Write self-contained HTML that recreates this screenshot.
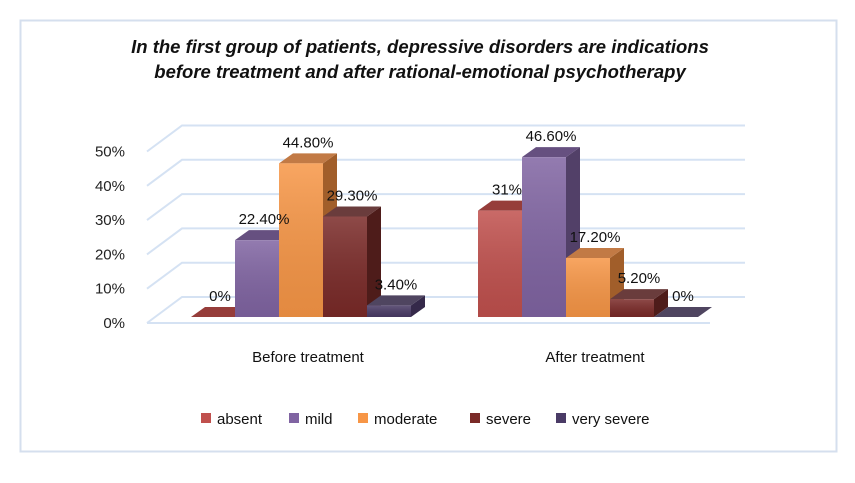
<!DOCTYPE html>
<html><head><meta charset="utf-8"><style>
body{margin:0;background:#fff;}
svg text{font-family:"Liberation Sans",sans-serif;}
</style></head><body>
<svg id="chart" width="855" height="478" xmlns="http://www.w3.org/2000/svg">
<defs>
<linearGradient id="gv" x1="0" y1="0" x2="0" y2="1"><stop offset="0" stop-color="#fff" stop-opacity="0.15"/><stop offset="1" stop-color="#000" stop-opacity="0.08"/></linearGradient>
</defs>
<rect x="20.5" y="20.5" width="816" height="431" fill="#fff" stroke="#d5dfee" stroke-width="2"/>
<text x="420" y="53" text-anchor="middle" font-size="18.5" font-weight="bold" font-style="italic" fill="#111">In the first group of patients, depressive disorders are indications</text>
<text x="420" y="78" text-anchor="middle" font-size="18.5" font-weight="bold" font-style="italic" fill="#111">before treatment and after rational-emotional psychotherapy</text>
<g id="grid"></g><g id="bars"></g><g id="labels"></g><g id="legend"></g>
</svg>
<script>
const categories=["Before treatment","After treatment"];
const seriesNames=["absent","mild","moderate","severe","very severe"];
const before=[0,22.4,44.8,29.3,3.4];
const after=[31,46.6,17.2,5.2,0];
const beforeLabels=["0%","22.40%","44.80%","29.30%","3.40%"];
const afterLabels=["31%","46.60%","17.20%","5.20%","0%"];
const yTicks=[0,10,20,30,40,50];
const colors=[["#c0504d","#963d3a","#8a3532"],["#8064a2","#665080","#524068"],["#f79646","#c27a45","#a15e2a"],["#7a2a28","#6a3c3c","#4e1c1a"],["#4a3b66","#4f4560","#35294a"]];
const NS="http://www.w3.org/2000/svg";
const base=317, scale=3.43, dx=14, dy=-10, bw=44;
const groupX=[191,478];
function y(v){return base-v*scale;}
function el(t,a,p){const e=document.createElementNS(NS,t);for(const k in a)e.setAttribute(k,a[k]);p.appendChild(e);return e;}
const grid=document.getElementById('grid');
yTicks.forEach(t=>{
  const by=297-t*3.43;
  const g=el('polyline',{points:`147,${by+26} 182,${by} 745,${by}`,fill:'none',stroke:'#d5e2f3','stroke-width':2},grid);
  
  
  const tx=el('text',{x:125,y:by+31,'text-anchor':'end','font-size':15,fill:'#222'},grid);
  tx.textContent=t+'%';
  
  
});
const fl=el('line',{x1:147,y1:323,x2:710,y2:323,stroke:'#d5e2f3','stroke-width':2},grid);


const bars=document.getElementById('bars'), labels=document.getElementById('labels');
[before,after].forEach((vals,gi)=>{
  const lbls=gi?afterLabels:beforeLabels;
  vals.forEach((v,i)=>{
    const x=groupX[gi]+i*bw, top=y(v), c=colors[i];
    const g=el('g',{},bars);
    
    
    el('polygon',{points:`${x+bw},${top} ${x+bw+dx},${top+dy} ${x+bw+dx},${base+dy} ${x+bw},${base}`,fill:c[2]},g);
    el('polygon',{points:`${x},${top} ${x+dx},${top+dy} ${x+bw+dx},${top+dy} ${x+bw},${top}`,fill:c[1]},g);
    if(v>0){ el('rect',{x:x,y:top,width:bw,height:base-top,fill:c[0]},g);
      el('rect',{x:x,y:top,width:bw,height:base-top,fill:'url(#gv)'},g);}
    const t=el('text',{x:x+bw/2+dx/2,y:top+dy-6,'text-anchor':'middle','font-size':15,fill:'#111'},labels);
    t.textContent=lbls[i];
    
    
  });
  const ct=el('text',{x:groupX[gi]+bw*2.5+7,y:362,'text-anchor':'middle','font-size':15,fill:'#111'},labels);
  ct.textContent=categories[gi];
  
  
});
const legend=document.getElementById('legend');
const lx=[201,289,358,470,556];
seriesNames.forEach((n,i)=>{
  const g=el('g',{},legend);
  
  
  el('rect',{x:lx[i],y:413,width:10,height:10,fill:colors[i][0]},g);
  const t=el('text',{x:lx[i]+16,y:424,'font-size':15,fill:'#111'},g);
  t.textContent=n;
});
</script>
</body></html>
